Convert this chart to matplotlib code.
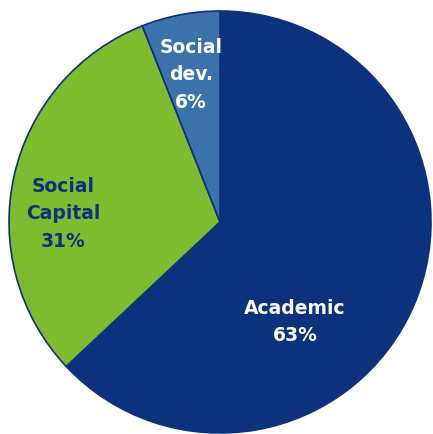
import matplotlib
matplotlib.use("Agg")
import matplotlib.pyplot as plt

# share of activities by type
categories = ["Academic", "Social\nCapital", "Social\ndev."]
shares = [63, 31, 6]
colors = ["#0D327D", "#7DBB2F", "#3B72AC"]
text_colors = ["white", "#0D327D", "white"]
label_pos = [(0.355, -0.474), (-0.744, 0.038), (-0.137, 0.697)]

fig = plt.figure(figsize=(4.33, 4.34), dpi=100)
ax = fig.add_axes([0, 0, 1, 1])

ax.pie(shares, colors=colors, startangle=90, counterclock=False,
       radius=1.0, center=(0, 0),
       wedgeprops=dict(edgecolor="#0D327D", linewidth=1.2))

for name, val, tc, (x, y) in zip(categories, shares, text_colors, label_pos):
    ax.text(x, y, "%s\n%d%%" % (name, val), ha="center", va="center",
            color=tc, fontsize=13.5, fontweight="bold", family="DejaVu Sans",
            linespacing=1.55)

# radius 211 px, center at (220, 222) px
s = 211.0
ax.set_xlim(-220 / s, (433 - 220) / s)
ax.set_ylim(-(434 - 222) / s, 222 / s)
ax.set_aspect("auto")
ax.axis("off")

fig.savefig("out.png", dpi=100, facecolor="white")
